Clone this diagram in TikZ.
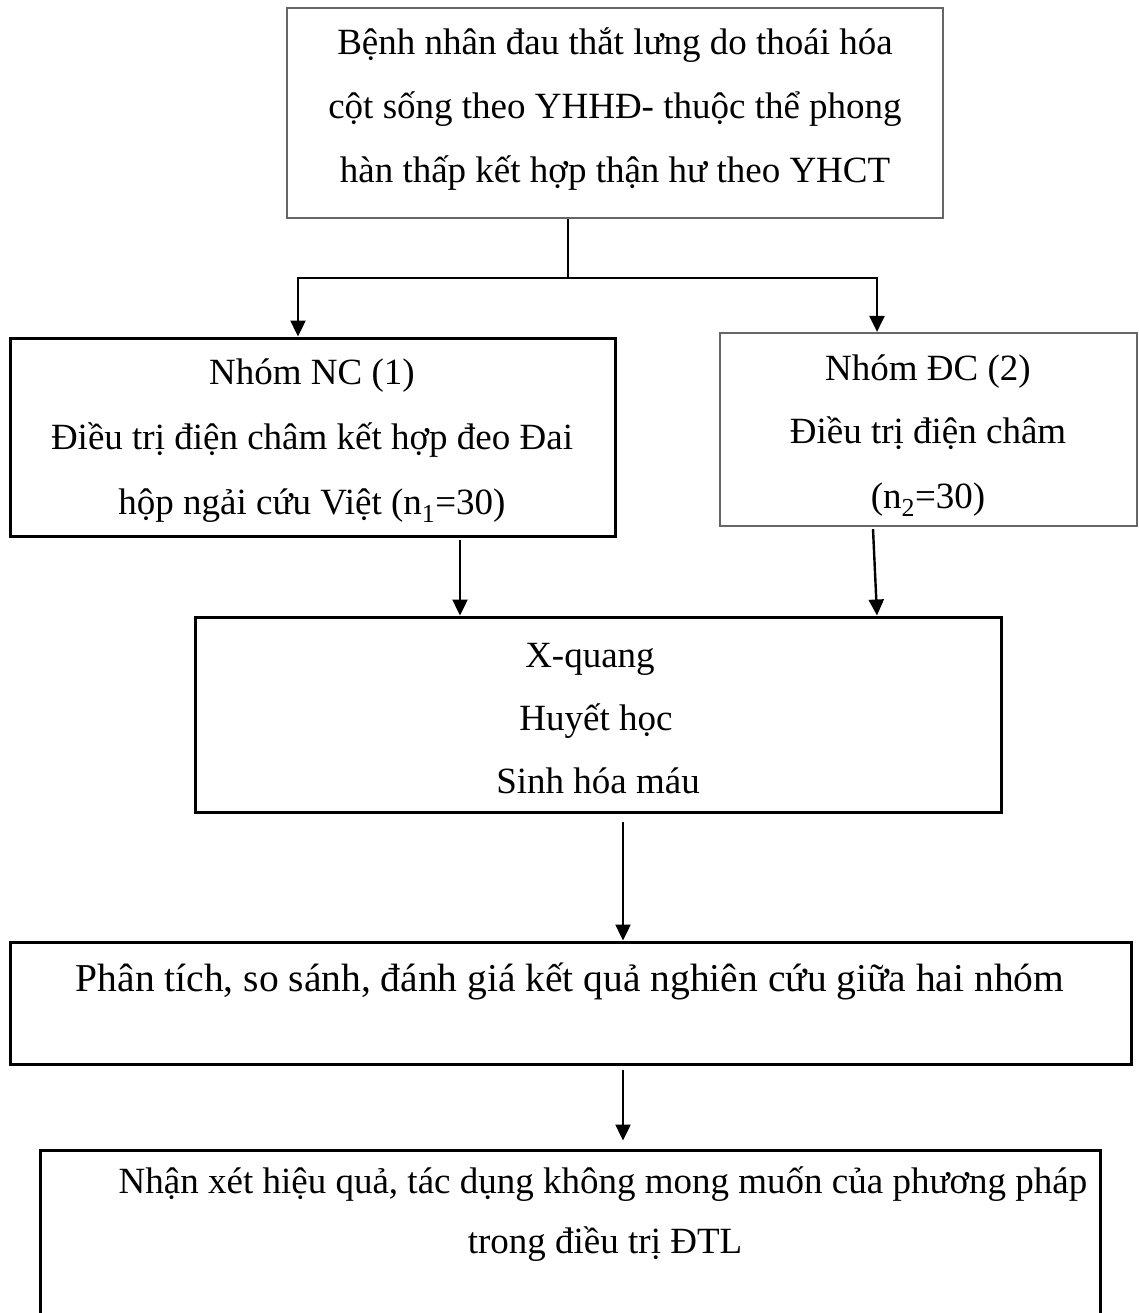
\documentclass[tikz,border=0pt]{standalone}
\usepackage{fontspec}
\setmainfont{Liberation Serif}
\usetikzlibrary{arrows.meta}
\begin{document}
\begin{tikzpicture}[x=1pt,y=-1pt,
  gbox/.style={draw=black!60, line width=2.2pt, inner sep=0pt},
  kbox/.style={draw=black, line width=3pt, inner sep=0pt},
  txt/.style={font=\fontsize{37}{64}\selectfont, inner sep=0pt, anchor=base},
  bigtxt/.style={font=\fontsize{39.5}{64}\selectfont, inner sep=0pt, anchor=base},
  arr/.style={line width=2.4pt, -{Triangle[length=16pt,width=15pt]}},
  ln/.style={line width=2.4pt}]
\useasboundingbox (0,0) rectangle (1139,1313);
\clip (0,0) rectangle (1139,1313);
% boxes
\node[gbox, minimum width=656pt, minimum height=210pt] (top) at (615,113) {};
\node[kbox, minimum width=605pt, minimum height=198pt] (nc) at (312.5,437) {};
\node[gbox, minimum width=417pt, minimum height=193pt] (dc) at (928.5,429.5) {};
\node[kbox, minimum width=806pt, minimum height=195pt] (xq) at (598,714.5) {};
\node[kbox, minimum width=1121pt, minimum height=122pt] (pt) at (570.5,1003) {};
\node[kbox, minimum width=1060pt, minimum height=200pt] (nx) at (570,1250) {};
% texts
\node[txt] (t1) at (615,55) {Bệnh nhân đau thắt lưng do thoái hóa};
\node[txt] (t2) at (615,119) {cột sống theo YHHĐ- thuộc thể phong};
\node[txt] (t3) at (615,183) {hàn thấp kết hợp thận hư theo YHCT};
\node[txt] (n1) at (312,384) {Nhóm NC (1)};
\node[txt] (n2) at (312,449) {Điều trị điện châm kết hợp đeo Đai};
\node[txt] (n3) at (312,514) {hộp ngải cứu Việt (n\textsubscript{1}=30)};
\node[txt] (d1) at (928,380) {Nhóm ĐC (2)};
\node[txt] (d2) at (928,443) {Điều trị điện châm};
\node[txt] (d3) at (928,508) {(n\textsubscript{2}=30)};
\node[txt] (x1) at (590,667) {X-quang};
\node[txt] (x2) at (596,730) {Huyết học};
\node[txt] (x3) at (598,793) {Sinh hóa máu};
\node[bigtxt] (p1) at (570,991) {Phân tích, so sánh, đánh giá kết quả nghiên cứu giữa hai nhóm};
\node[txt] (r1) at (603,1193) {Nhận xét hiệu quả, tác dụng không mong muốn của phương pháp};
\node[txt] (r2) at (605,1253) {trong điều trị ĐTL};
% connectors
\coordinate (sp) at (568,278);
\coordinate (la) at (298,278);
\coordinate (ra) at (877,278);
\coordinate (c1) at (460,0);
\coordinate (c2) at (873,0);
\coordinate (c3) at (877,0);
\coordinate (c4) at (623,0);
\draw[ln] (top.south -| sp) -- (sp);
\draw[arr] (sp) -- (la) -- (la |- nc.north);
\draw[arr] (sp) -- (ra) -- (ra |- dc.north);
\draw[arr] ([yshift=-2pt]nc.south -| c1) -- (xq.north -| c1);
\draw[arr] ([yshift=-2pt]dc.south -| c2) -- (xq.north -| c3);
\draw[arr] ([yshift=-8pt]xq.south -| c4) -- (pt.north -| c4);
\draw[arr] ([yshift=-4pt]pt.south -| c4) -- ([yshift=8pt]nx.north -| c4);
\end{tikzpicture}
\end{document}
